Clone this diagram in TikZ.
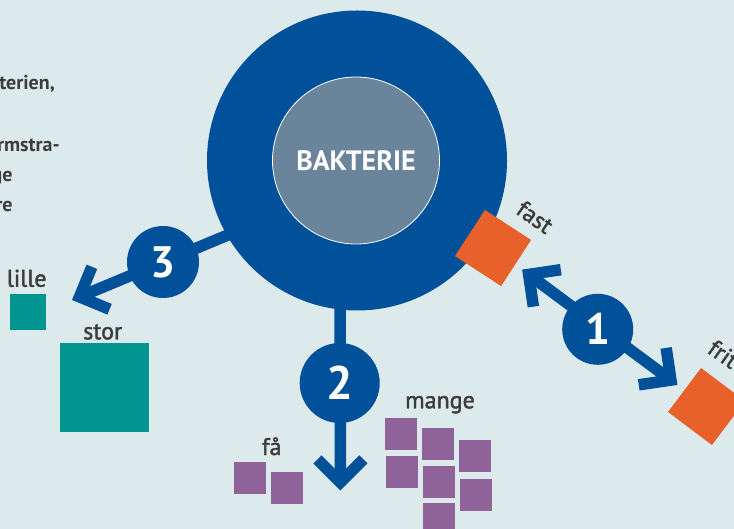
\documentclass[tikz,border=0pt]{standalone}
\usepackage{fontspec}
\setmainfont{PT Sans}
\newfontfamily\lblfont[FakeBold=1.6]{PT Sans}
\usetikzlibrary{arrows.meta}

\definecolor{bgblue}{HTML}{DDEAEC}
\definecolor{cellblue}{HTML}{00519A}
\definecolor{coreblue}{HTML}{6A849B}
\definecolor{orangesq}{HTML}{E8602A}
\definecolor{tealsq}{HTML}{00958F}
\definecolor{purplesq}{HTML}{8F6399}
\definecolor{labelgray}{HTML}{3C3C3C}

\pgfdeclarelayer{back}
\pgfsetlayers{back,main}

\tikzset{
  chev/.tip={Straight Barb[length=23pt,width=46pt,sharp]},
  sq/.style={rectangle, inner sep=0pt, minimum size=#1},
  orangebox/.style={sq=55pt, fill=orangesq},
  purplebox/.style={sq=32pt, fill=purplesq},
  tealbox/.style={sq=#1, fill=tealsq},
  lbl/.style={text=labelgray, font=\lblfont\fontsize{24}{26}\selectfont, inner sep=0pt, anchor=base},
  sidetext/.style={text=labelgray, font=\bfseries\fontsize{20}{22}\selectfont, inner sep=0pt, anchor=base east},
  badge/.style={circle, fill=cellblue, text=white, font=\bfseries\fontsize{44}{46}\selectfont, minimum size=#1, inner sep=0pt},
  flow/.style={draw=cellblue, line width=11.5pt, -chev},
  flowboth/.style={draw=cellblue, line width=11.5pt, chev-chev},
}

\begin{document}
\begin{tikzpicture}[x=1pt,y=-1pt]
\begin{pgfonlayer}{back}
\fill[bgblue] (0,0) rectangle (734,529);
\end{pgfonlayer}
\useasboundingbox (0,0) rectangle (734,529);

% text cut at the left edge
\node[sidetext] (side1) at (55,90) {terien,};
\node[sidetext] (side2) at (60,151.7) {rmstra-};
\node[sidetext] (side3) at (12.7,181.7) {ge};
\node[sidetext] (side4) at (12.7,211.7) {re};

% bacterium
\node[circle, fill=cellblue, minimum size=300pt, inner sep=0pt] (cell) at (357,160.5) {};
\node[circle, fill=coreblue, draw=white, line width=0.8pt, minimum size=167pt, inner sep=0pt,
  text=white, font=\bfseries\fontsize{28}{30}\selectfont] (bakterie) at (356,160.5) {BAKTERIE};

% squares
\node[orangebox, rotate=-33] (fast) at (493,248) {};
\node[orangebox, rotate=-37] (frit) at (706.5,406.5) {};
\node[tealbox=36.5pt] (lille) at (28,312) {};
\node[tealbox=89pt] (stor) at (104.7,387.5) {};
\foreach \x/\y [count=\i] in {401/434, 438/444, 475/456, 402/472, 439/482, 476/495, 439/519}
  \node[purplebox] (mange\i) at (\x,\y) {};
\node[purplebox] (faa1) at (250,478) {};
\node[purplebox] (faa2) at (287,488) {};

% labels
\node[lbl] (lillelbl) at (26.7,286.7) {lille};
\node[lbl] (storlbl) at (102.7,339.3) {stor};
\node[lbl] (mangelbl) at (440,408.3) {mange};
\node[lbl] (faalbl) at (271.7,455) {få};
\node[lbl, rotate=-35, anchor=center] (fastlbl) at (535,217) {fast};
\node[lbl, rotate=-35, anchor=base west] (fritlbl) at (706,352) {frit};

% numbered steps
\node[badge=71pt] (one) at (597.7,329.3) {1};
\node[badge=80pt, font=\bfseries\fontsize{47}{49}\selectfont] (two) at (339.7,383) {2};
\node[badge=72pt] (three) at (163,262) {3};

% arrows, behind everything
\coordinate (top2) at (340,290);
\coordinate (end2) at (340.5,490.5);
\coordinate (top3) at (280,213.3);
\coordinate (end3) at (72,300);
\begin{pgfonlayer}{back}
\draw[flow] (top2) -- (end2);
\draw[flow] (top3) -- (end3);
\draw[flowboth, shorten <=8.5pt, shorten >=8.5pt] (fast) -- (frit);
\end{pgfonlayer}
\end{tikzpicture}
\end{document}
